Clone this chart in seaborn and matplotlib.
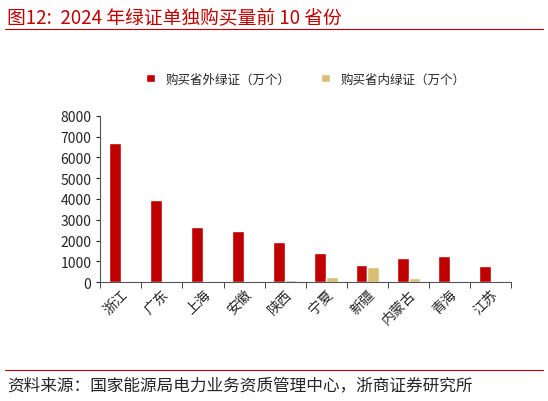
import numpy as np
import pandas as pd
import matplotlib
matplotlib.use("Agg")
import matplotlib.pyplot as plt
import seaborn as sns

provinces = ["浙江", "广东", "上海", "安徽", "陕西", "宁夏", "新疆", "内蒙古", "青海", "江苏"]
outside = [6700, 3930, 2630, 2440, 1910, 1380, 820, 1170, 1230, 750]
inside = [0, 50, 0, 0, 80, 240, 700, 190, 0, 0]
s_out = "购买省外绿证（万个）"
s_in = "购买省内绿证（万个）"

df = pd.DataFrame({"省份": provinces * 2,
                   "值": outside + inside,
                   "类型": [s_out] * 10 + [s_in] * 10})

sns.set_style("white")
plt.rcParams['font.family'] = ['Noto Sans CJK SC', 'DejaVu Sans']

fig = plt.figure(figsize=(5.48, 4.02), dpi=100)
ax = fig.add_axes([0.183, 0.296, 0.75, 0.413])
sns.barplot(data=df, x="省份", y="值", hue="类型", ax=ax,
            palette=["#C00000", "#D9BE74"], width=0.58, saturation=1)
ax.set_ylim(0, 8000)
ax.set_yticks(range(0, 8001, 1000))
ax.set_xlabel("")
ax.set_ylabel("")
for s in ["top", "right"]:
    ax.spines[s].set_visible(False)
for s in ["left", "bottom"]:
    ax.spines[s].set_color("#555555")
ax.tick_params(axis="y", labelsize=10, length=3, direction="out", left=True)
ax.tick_params(axis="x", labelsize=10, rotation=45, bottom=True, length=3)
ax.set_xticks(np.arange(-0.5, 10, 1), minor=True)
ax.tick_params(axis="x", which="major", length=0)
ax.tick_params(axis="x", which="minor", length=4, bottom=True)
for lab in ax.get_xticklabels():
    lab.set_ha("right")
    lab.set_rotation_mode("anchor")
ax.legend(loc="upper center", bbox_to_anchor=(0.5, 1.33), ncol=2, frameon=False,
          fontsize=9, handlelength=0.7, handleheight=0.7, columnspacing=2.5)

fig.text(0.013, 0.955, "图12:  2024 年绿证单独购买量前 10 省份", color="#C00000", fontsize=13.5, va="center")
fig.add_artist(plt.Line2D([0.01, 0.99], [0.925, 0.925], color="#C00000", lw=0.8))
fig.add_artist(plt.Line2D([0.01, 0.99], [0.078, 0.078], color="#C00000", lw=0.8))
fig.text(0.013, 0.038, "资料来源：国家能源局电力业务资质管理中心，浙商证券研究所", fontsize=12, va="center")

fig.savefig("out.png", dpi=100)
